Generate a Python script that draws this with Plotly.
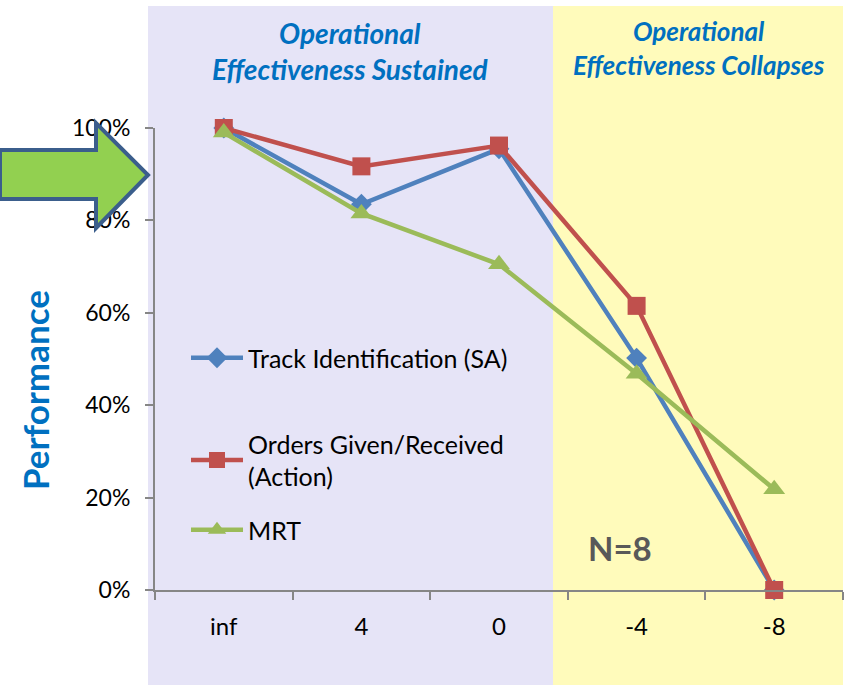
import plotly.graph_objects as go

categories = ["inf", "4", "0", "-4", "-8"]
track_id = [1.00, 0.835, 0.955, 0.502, 0.0]
orders = [1.00, 0.917, 0.962, 0.615, 0.0]
mrt = [0.99, 0.815, 0.705, 0.468, 0.218]
y_ticks = [0, 0.2, 0.4, 0.6, 0.8, 1.0]

FONT = "Lato"
fig = go.Figure()
fig.add_trace(go.Scatter(x=categories, y=track_id, name="Track Identification (SA)",
                         mode="lines+markers", legend="legend", showlegend=True, cliponaxis=False,
                         line=dict(color="#4F81BD", width=4.5),
                         marker=dict(symbol="diamond", size=16, color="#4F81BD")))
fig.add_trace(go.Scatter(x=categories, y=orders, name="Orders Given/Received<br>(Action)",
                         mode="lines+markers", legend="legend2", showlegend=True, cliponaxis=False,
                         line=dict(color="#C0504D", width=4.5),
                         marker=dict(symbol="square", size=18, color="#C0504D")))
fig.add_trace(go.Scatter(x=categories, y=mrt, name="MRT",
                         mode="lines+markers", legend="legend3", showlegend=True, cliponaxis=False,
                         line=dict(color="#9BBB59", width=4.5),
                         marker=dict(symbol="triangle-up", size=19, color="#9BBB59")))

L, W, T, H = 155, 688, 128, 462
def px(x): return (x - L) / W
def py(y): return (T + H - y) / H

shapes = [
    dict(type="rect", xref="paper", yref="paper", x0=px(148), x1=px(553), y0=py(685), y1=py(6),
         fillcolor="#E6E4F7", line=dict(width=0), layer="below"),
    dict(type="rect", xref="paper", yref="paper", x0=px(553), x1=px(843), y0=py(685), y1=py(6),
         fillcolor="#FFFBBB", line=dict(width=0), layer="below"),
]
# arrow
pts = [(0, 150), (96, 150), (96, 123), (148, 175), (96, 228), (96, 199), (0, 199)]
path = "M " + " L ".join(f"{px(x)},{py(y)}" for x, y in pts) + " Z"
shapes.append(dict(type="path", xref="paper", yref="paper", path=path,
                   fillcolor="#92D050", line=dict(color="#3B5E8C", width=4), layer="above"))

annotations = [
    dict(text="<b><i>Operational<br>Effectiveness Sustained</i></b>", xref="paper", yref="paper",
         x=px(350), y=py(51), xanchor="center", yanchor="middle", showarrow=False,
         font=dict(family=FONT, size=28, color="#0070C0")),
    dict(text="<b><i>Operational<br>Effectiveness Collapses</i></b>", xref="paper", yref="paper",
         x=px(699), y=py(48), xanchor="center", yanchor="middle", showarrow=False,
         font=dict(family=FONT, size=26, color="#0070C0")),
    dict(text="<b>Performance</b>", xref="paper", yref="paper", textangle=-90,
         x=px(35), y=py(390), xanchor="center", yanchor="middle", showarrow=False,
         font=dict(family=FONT, size=35, color="#0070C0")),
    dict(text="<b>N=8</b>", xref="paper", yref="paper",
         x=px(620), y=py(548), xanchor="center", yanchor="middle", showarrow=False,
         font=dict(family=FONT, size=33, color="#595959")),
]

def leg(top):
    return dict(x=px(186), y=py(top), xanchor="left", yanchor="top", visible=True,
                bgcolor="rgba(0,0,0,0)", font=dict(size=25), itemwidth=52)

fig.update_layout(
    width=844, height=685, showlegend=True,
    margin=dict(l=L, r=844 - L - W, t=T, b=685 - T - H),
    paper_bgcolor="white", plot_bgcolor="rgba(0,0,0,0)",
    font=dict(family=FONT, size=24, color="black"),
    shapes=shapes, annotations=annotations,
    legend=leg(335), legend2=leg(421), legend3=leg(507),
    xaxis=dict(type="category", range=[-0.5, 4.5], showgrid=False, showline=True,
               linecolor="#868686", linewidth=2, ticks="outside", ticklen=8, tickcolor="#868686",
               tickwidth=2, tickson="boundaries", ticklabelstandoff=14, tickfont=dict(size=24)),
    yaxis=dict(range=[0, 1], tickvals=y_ticks, tickformat=".0%", showgrid=False, showline=True,
               linecolor="#868686", linewidth=2, ticks="outside", ticklen=8, tickcolor="#868686",
               tickwidth=2, ticklabelstandoff=10, tickfont=dict(size=23), zeroline=False),
)

fig.write_html("out.html", config={"displayModeBar": False},
               post_script="document.body.style.margin='0';")
